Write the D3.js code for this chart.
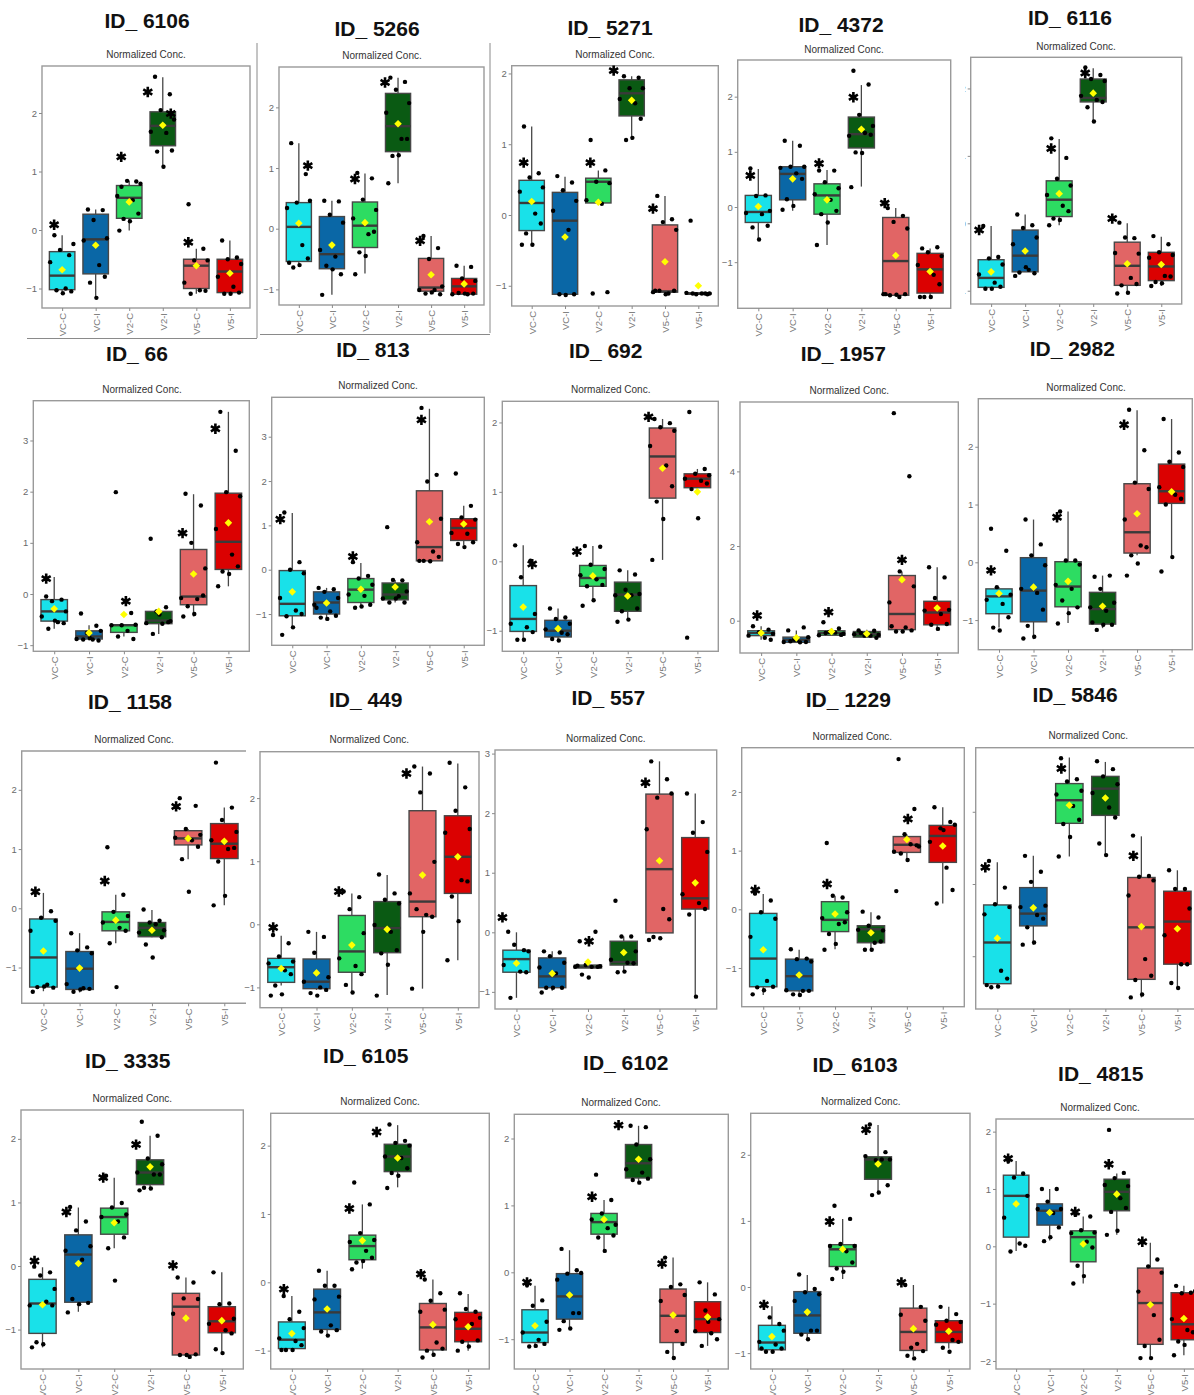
<!DOCTYPE html>
<html>
<head>
<meta charset="utf-8">
<script src="https://cdn.jsdelivr.net/npm/d3@7/dist/d3.min.js"></script>
<style>
  html, body { margin: 0; padding: 0; background: #ffffff; }
  svg { display: block; font-family: "Liberation Sans", Arial, sans-serif; }
</style>
</head>
<body>
<svg id="chart" width="1194" height="1395"></svg>
<script>
// ---------------- data ----------------
const groups = ["VC-C", "VC-I", "V2-C", "V2-I", "V5-C", "V5-I"];

const panelIds = ["ID_ 6106", "ID_ 5266", "ID_ 5271", "ID_ 4372", "ID_ 6116",
                  "ID_ 66", "ID_ 813", "ID_ 692", "ID_ 1957", "ID_ 2982",
                  "ID_ 1158", "ID_ 449", "ID_ 557", "ID_ 1229", "ID_ 5846",
                  "ID_ 3335", "ID_ 6105", "ID_ 6102", "ID_ 6103", "ID_ 4815"];

const yTickValues = [
  [-1, 0, 1, 2], [-1, 0, 1, 2], [-1, 0, 1, 2], [-1, 0, 1, 2], [-1, 0, 1, 2],
  [-1, 0, 1, 2, 3], [-1, 0, 1, 2, 3], [-1, 0, 1, 2], [0, 2, 4], [-1, 0, 1, 2],
  [-1, 0, 1, 2], [-1, 0, 1, 2], [-1, 0, 1, 2, 3], [-1, 0, 1, 2], [-1, 0, 1],
  [-1, 0, 1, 2], [-1, 0, 1, 2], [-1, 0, 1, 2], [-1, 0, 1, 2], [-2, -1, 0, 1, 2]
];

// five-number summaries per group: [lower whisker, Q1, median, Q3, upper whisker]
const boxStats = [
  [[-1.05,-1.02,-0.78,-0.37,-0.09],[-1.14,-0.75,-0.16,0.27,0.35],[-0.01,0.2,0.55,0.76,0.84],[1.08,1.44,1.78,2.02,2.61],[-1.09,-1.0,-0.61,-0.5,-0.32],[-1.09,-1.07,-0.71,-0.5,-0.18]],
  [[-0.63,-0.54,0.03,0.43,1.41],[-1.09,-0.66,-0.42,0.2,0.46],[-0.74,-0.31,0.05,0.44,0.91],[0.75,1.27,1.69,2.23,2.49],[-1.08,-1.03,-0.97,-0.49,-0.12],[-1.08,-1.08,-0.95,-0.82,-0.61]],
  [[-0.42,-0.22,0.17,0.49,1.25],[-1.13,-1.12,-0.08,0.32,0.54],[0.16,0.17,0.47,0.52,0.63],[1.06,1.4,1.72,1.91,1.96],[-1.12,-1.09,-1.08,-0.14,0.27],[-1.12,-1.12,-1.11,-1.1,-1.1]],
  [[-0.59,-0.28,-0.09,0.21,0.69],[-0.07,0.13,0.6,0.73,1.2],[-0.69,-0.13,0.21,0.42,0.67],[0.37,1.07,1.32,1.63,2.21],[-1.6,-1.6,-0.98,-0.19,-0.02],[-1.63,-1.56,-1.13,-0.84,-0.75]],
  [[-0.97,-0.95,-0.81,-0.54,-0.04],[-0.72,-0.72,-0.48,-0.1,0.13],[-0.03,0.1,0.35,0.63,1.25],[1.51,1.8,1.86,2.14,2.3],[-1.04,-0.92,-0.63,-0.28,0.0],[-0.93,-0.85,-0.64,-0.43,-0.2]],
  [[-0.68,-0.53,-0.34,-0.11,0.33],[-0.91,-0.88,-0.83,-0.72,-0.61],[-0.83,-0.75,-0.61,-0.6,-0.6],[-0.78,-0.58,-0.52,-0.34,-0.29],[-0.44,-0.21,-0.05,0.87,1.95],[0.15,0.48,1.02,1.97,3.56]],
  [[-1.3,-1.04,-0.77,-0.02,1.28],[-1.09,-1.0,-0.74,-0.5,-0.41],[-0.86,-0.74,-0.45,-0.2,0.15],[-0.74,-0.68,-0.56,-0.3,-0.23],[0.2,0.2,0.51,1.78,3.63],[0.56,0.66,0.94,1.15,1.44]],
  [[-1.13,-1.01,-0.83,-0.35,0.23],[-1.14,-1.09,-1.0,-0.85,-0.68],[-0.58,-0.36,-0.24,-0.06,0.22],[-0.86,-0.72,-0.48,-0.3,-0.13],[0.02,0.91,1.51,1.92,2.05],[1.04,1.06,1.19,1.26,1.33]],
  [[-0.51,-0.4,-0.33,-0.27,-0.15],[-0.6,-0.58,-0.51,-0.44,-0.26],[-0.39,-0.39,-0.33,-0.27,-0.2],[-0.46,-0.44,-0.36,-0.29,-0.24],[-0.29,-0.24,0.18,1.21,1.32],[-0.22,-0.11,0.22,0.52,1.43]],
  [[-1.13,-0.89,-0.59,-0.46,-0.43],[-1.33,-1.03,-0.49,0.08,0.74],[-1.05,-0.77,-0.42,0.01,0.88],[-1.14,-1.07,-0.81,-0.52,-0.23],[0.12,0.16,0.52,1.36,2.63],[0.09,1.02,1.23,1.7,2.48]],
  [[-1.4,-1.33,-0.83,-0.18,0.26],[-1.42,-1.37,-1.02,-0.73,-0.42],[-0.59,-0.38,-0.23,-0.06,0.23],[-0.49,-0.48,-0.33,-0.24,-0.03],[0.83,1.07,1.18,1.31,1.34],[0.05,0.84,1.09,1.43,1.7]],
  [[-0.97,-0.92,-0.68,-0.54,-0.18],[-1.04,-1.02,-0.91,-0.55,-0.12],[-1.07,-0.76,-0.43,0.14,0.49],[-1.12,-0.45,-0.06,0.36,0.78],[-1.02,0.12,0.36,1.8,2.5],[-0.57,0.49,1.07,1.72,2.55]],
  [[-1.1,-0.67,-0.45,-0.3,0.0],[-0.98,-0.93,-0.74,-0.43,-0.32],[-0.6,-0.6,-0.58,-0.55,-0.55],[-0.66,-0.55,-0.5,-0.15,-0.07],[-0.01,-0.01,1.06,2.32,2.87],[-1.08,0.39,0.57,1.59,2.33]],
  [[-1.46,-1.32,-0.84,-0.07,0.26],[-1.46,-1.39,-1.14,-0.85,-0.69],[-0.68,-0.38,-0.18,0.13,0.23],[-0.69,-0.57,-0.34,-0.28,-0.05],[0.84,0.97,1.1,1.24,1.28],[0.1,0.8,1.25,1.43,1.74]],
  [[-1.42,-1.38,-0.81,-0.29,0.3],[-0.84,-0.58,-0.41,-0.05,0.39],[0.38,0.84,1.16,1.39,1.75],[0.4,0.95,1.32,1.49,1.69],[-1.57,-1.32,-0.6,0.09,0.66],[-1.44,-1.11,-0.52,-0.1,0.19]],
  [[-1.28,-1.06,-0.59,-0.21,-0.02],[-0.72,-0.57,0.18,0.49,0.92],[0.28,0.5,0.77,0.91,1.39],[1.19,1.28,1.47,1.67,2.05],[-1.43,-1.4,-0.64,-0.43,-0.18],[-1.37,-1.05,-0.87,-0.64,-0.1]],
  [[-0.99,-0.97,-0.84,-0.58,-0.2],[-0.77,-0.69,-0.44,-0.1,0.17],[0.2,0.33,0.53,0.69,1.14],[1.39,1.62,1.84,2.02,2.3],[-1.09,-0.99,-0.66,-0.31,0.04],[-1.0,-0.87,-0.68,-0.44,-0.17]],
  [[-1.11,-1.05,-0.9,-0.56,-0.2],[-0.84,-0.7,-0.36,-0.02,0.33],[0.33,0.57,0.75,0.88,1.08],[1.35,1.41,1.63,1.91,2.19],[-1.28,-1.05,-0.65,-0.25,0.22],[-1.1,-0.9,-0.7,-0.44,-0.15]],
  [[-0.99,-0.95,-0.84,-0.58,-0.29],[-0.79,-0.7,-0.43,-0.07,0.18],[0.12,0.31,0.57,0.64,1.03],[1.4,1.63,1.93,1.97,2.45],[-1.05,-0.96,-0.68,-0.32,0.03],[-0.93,-0.84,-0.68,-0.51,-0.3]],
  [[-0.08,0.16,0.88,1.24,1.49],[0.1,0.37,0.62,0.74,1.0],[-0.65,-0.27,0.16,0.27,0.52],[0.2,0.62,0.95,1.17,1.27],[-1.95,-1.71,-0.99,-0.38,0.06],[-1.9,-1.63,-1.36,-0.81,-0.69]]
];

// group means (yellow diamonds)
const groupMeans = [
  [-0.68,-0.26,0.48,1.79,-0.61,-0.74],
  [0.09,-0.27,0.1,1.73,-0.76,-0.91],
  [0.19,-0.31,0.18,1.62,-0.66,-1.0],
  [0.01,0.51,0.13,1.41,-0.88,-1.17],
  [-0.72,-0.41,0.44,1.93,-0.6,-0.61],
  [-0.29,-0.76,-0.4,-0.34,0.39,1.39],
  [-0.5,-0.75,-0.44,-0.39,1.08,1.03],
  [-0.66,-0.97,-0.21,-0.5,1.34,1.0],
  [-0.33,-0.46,-0.29,-0.35,1.1,0.34],
  [-0.54,-0.43,-0.33,-0.76,0.84,1.22],
  [-0.72,-1.01,-0.2,-0.37,1.18,1.13],
  [-0.7,-0.77,-0.33,-0.08,0.78,1.07],
  [-0.52,-0.69,-0.5,-0.34,1.2,0.83],
  [-0.69,-1.12,-0.08,-0.4,1.19,1.08],
  [-0.75,-0.33,1.09,1.19,-0.59,-0.62],
  [-0.61,0.04,0.68,1.56,-0.82,-0.86],
  [-0.75,-0.39,0.61,1.82,-0.62,-0.65],
  [-0.8,-0.34,0.79,1.69,-0.64,-0.67],
  [-0.75,-0.38,0.57,1.86,-0.63,-0.67],
  [0.74,0.59,0.04,0.91,-1.02,-1.26]
];

// individual normalized concentrations per group
const samplePoints = [
  [[-0.09,-0.43,-0.34,-0.24,-0.55,-1.0,-1.05,-1.03,-1.08],[0.35,0.34,0.17,-0.14,-0.18,-0.6,-0.8,-0.9,-1.16],[0.74,0.83,0.84,0.79,0.58,0.51,0.28,0.19,0.15,-0.01],[2.62,2.32,2.05,1.89,1.68,1.66,1.36,1.34,1.08],[0.44,-0.32,-0.52,-0.52,-0.9,-1.03,-1.04,-1.09],[-0.18,-0.47,-0.5,-0.58,-0.8,-0.97,-1.07,-1.09,-1.09]],
  [[1.41,0.9,0.43,0.46,0.34,-0.27,-0.49,-0.64,-0.6,-0.56],[0.46,0.45,0.23,0.1,-0.35,-0.46,-0.75,-0.61,-0.67,-1.09],[0.92,0.83,0.48,0.31,0.17,-0.09,-0.05,-0.39,-0.45,-0.75],[2.49,2.42,2.29,2.07,1.91,1.48,1.48,1.2,1.21,0.75],[-0.12,-0.32,-0.5,-0.95,-1.01,-1.01,-1.08,-1.07,-1.05],[-0.61,-0.63,-0.82,-0.86,-1.08,-1.08,-1.07,-1.06,-1.07]],
  [[1.25,0.59,0.53,0.39,0.33,0.02,-0.12,-0.26,-0.42,-0.42],[0.55,0.46,0.35,0.2,0.06,-0.21,-1.12,-1.12,-1.13],[1.06,0.63,0.47,0.45,0.21,0.16,-1.09,-1.11],[1.96,1.94,1.79,1.79,1.64,1.58,1.36,1.06,1.09],[0.27,-0.06,-0.1,-0.21,-1.09,-1.11,-1.07,-1.07,-1.12,-1.07],[-0.08,-1.11,-1.12,-1.11,-1.1,-1.11,-1.12,-1.11]],
  [[0.7,0.21,0.2,-0.07,-0.11,-0.13,-0.34,-0.37,-0.59],[1.2,1.11,0.73,0.73,0.71,0.61,0.51,0.14,0.02,-0.05],[0.66,0.66,0.45,0.34,0.23,0.13,-0.07,-0.13,-0.28,-0.69],[2.47,2.22,1.67,1.47,1.29,1.34,1.31,0.99,0.98,0.36],[-0.02,-0.16,-0.27,-0.39,-1.58,-1.63,-1.58,-1.6,-1.59,-1.58],[-0.75,-0.73,-0.82,-0.89,-1.05,-1.23,-1.4,-1.63,-1.63,-1.63]],
  [[-0.04,-0.5,-0.52,-0.61,-0.76,-0.88,-0.94,-0.97,-0.97],[0.13,-0.03,-0.07,-0.21,-0.31,-0.69,-0.74,-0.73,-0.65,-0.78],[1.26,0.97,0.66,0.56,0.42,0.26,0.18,0.07,0.05,-0.03],[2.31,2.2,2.14,2.11,1.89,1.83,1.8,1.72,1.51],[0.01,-0.22,-0.21,-0.45,-0.44,-0.81,-0.9,-0.92,-1.03,-1.04],[-0.19,-0.31,-0.43,-0.47,-0.51,-0.78,-0.79,-0.87,-0.89,-0.93]],
  [[-0.05,-0.11,-0.14,-0.34,-0.44,-0.55,-0.57,-0.68,-0.52],[-0.38,-0.62,-0.76,-0.72,-0.88,-0.89,-0.91,-0.89,-0.86],[1.99,-0.37,-0.61,-0.6,-0.61,-0.72,-0.88,-0.83],[1.08,-0.26,-0.34,-0.53,-0.57,-0.58,-0.55,-0.78,-0.4],[1.96,1.73,1.0,0.5,-0.08,-0.1,-0.03,-0.24,-0.39,-0.44],[3.56,2.8,1.99,1.91,1.27,0.77,0.54,0.44,0.39,0.15]],
  [[1.29,0.17,0.0,-0.08,-0.64,-0.92,-1.0,-1.05,-1.3,-1.47],[-0.41,-0.44,-0.5,-0.64,-0.79,-0.94,-1.04,-1.08,-1.11,-0.86],[0.17,-0.14,-0.2,-0.34,-0.56,-0.59,-0.79,-0.86,-0.83],[0.96,-0.24,-0.23,-0.49,-0.65,-0.6,-0.74,-0.74,-0.65],[3.65,2.14,1.99,1.15,0.62,0.41,0.29,0.2,0.19,0.2],[2.17,1.44,1.18,1.13,0.83,0.81,0.62,0.58,0.51]],
  [[0.23,0.01,-0.23,-0.76,-0.9,-0.95,-1.02,-1.13,-1.13],[-0.68,-0.81,-0.83,-0.9,-0.98,-1.03,-1.05,-1.12,-1.14],[0.22,0.21,-0.05,-0.11,-0.2,-0.26,-0.34,-0.36,-0.56,-0.64],[-0.13,-0.19,-0.41,-0.47,-0.49,-0.49,-0.68,-0.72,-0.84,-0.87],[2.05,1.99,1.93,1.88,1.66,1.38,1.08,0.86,0.61,0.02],[2.15,1.33,1.26,1.24,1.19,1.16,1.12,1.04,0.62,-1.1]],
  [[-0.15,-0.24,-0.31,-0.35,-0.4,-0.46,-0.51],[-0.26,-0.18,-0.51,-0.44,-0.57,-0.58,-0.57,-0.55,-0.51],[-0.04,-0.21,-0.3,-0.35,-0.39,-0.32,-0.38,-0.33],[-0.26,-0.27,-0.4,-0.38,-0.36,-0.4,-0.46,-0.33],[5.56,3.87,1.32,0.92,0.49,-0.18,-0.26,-0.29,-0.29,-0.15],[1.43,1.16,0.61,0.29,0.27,0.18,-0.09,-0.11,-0.22]],
  [[0.58,0.2,-0.43,-0.56,-0.65,-0.72,-0.95,-1.13,-1.18],[0.74,0.31,0.12,-0.05,-0.46,-0.53,-0.82,-1.1,-1.29,-1.32],[0.88,0.03,0.03,-0.04,-0.39,-0.46,-0.78,-0.66,-0.88,-1.06],[-0.25,-0.23,-0.46,-0.7,-0.78,-0.84,-1.08,-1.17,-1.08,-1.04],[2.64,1.94,1.38,1.27,0.74,0.29,0.26,0.12,-0.02,-0.23],[2.48,1.9,1.74,1.65,1.3,1.17,1.1,1.0,0.09,-0.16]],
  [[0.27,-0.05,-0.16,-0.21,-0.38,-1.29,-1.34,-1.33,-1.32,-1.41],[-0.42,-0.66,-0.71,-0.76,-1.28,-1.35,-1.36,-1.41,-1.37],[1.03,0.23,-0.06,-0.13,-0.24,-0.33,-0.38,-0.59,-1.33],[-0.02,-0.21,-0.24,-0.37,-0.41,-0.27,-0.49,-0.61,-0.83],[1.86,1.73,1.34,1.24,1.19,1.15,1.04,0.83,0.28],[2.46,1.7,1.49,1.29,1.15,1.0,1.02,0.79,0.21,0.05]],
  [[-0.17,-0.3,-0.51,-0.59,-0.62,-0.73,-0.79,-0.97,-1.11,-1.13],[-0.12,-0.2,-0.45,-0.84,-0.91,-1.0,-1.04,-1.09,-1.13],[0.52,0.43,0.24,-0.14,-0.54,-0.66,-0.79,-0.96,-1.08],[0.79,0.49,0.39,0.33,-0.01,-0.12,-0.41,-0.46,-0.64,-1.13],[2.5,2.39,2.09,0.99,0.49,0.15,0.12,0.24,-0.12,-1.02],[2.56,2.17,1.8,1.51,1.45,0.7,0.68,0.44,0.05,-0.57]],
  [[0.01,-0.3,-0.21,-0.32,-0.55,-0.66,-0.67,-1.1],[-0.32,-0.34,-0.4,-0.51,-0.59,-0.69,-0.93,-0.93,-0.93,-1.01],[-0.15,0.01,-0.55,-0.57,-0.58,-0.58,-0.58,-0.71,-0.76,-0.56],[0.53,-0.07,-0.07,-0.32,-0.46,-0.51,-0.52,-0.67,-0.66],[2.87,2.57,2.26,2.33,1.73,0.39,0.22,-0.08,-0.1,-0.13],[2.33,1.85,1.67,1.35,0.64,0.49,0.39,0.3,-1.08]],
  [[0.27,0.15,-0.05,-0.16,-0.47,-1.22,-1.32,-1.33,-1.38,-1.45],[-0.68,-0.84,-0.85,-0.89,-1.38,-1.39,-1.39,-1.45,-1.46],[1.13,0.2,0.23,-0.05,-0.15,-0.25,-0.22,-0.42,-0.59,-0.69],[-0.04,-0.14,-0.28,-0.36,-0.35,-0.57,-0.55,-0.69,-0.69],[2.56,1.71,1.28,1.07,0.98,1.11,1.09,0.95,0.84,0.31],[1.74,1.49,1.38,1.44,1.15,0.71,0.33,0.1,1.35]],
  [[0.32,-0.05,-0.28,-0.32,-0.42,-1.2,-1.31,-1.43,-1.42,-1.4],[0.39,0.17,0.03,-0.3,-0.32,-0.43,-0.48,-0.6,-0.81,-0.84],[1.74,1.45,1.42,1.29,1.24,1.08,0.89,0.83,0.65,0.38],[1.7,1.59,1.49,1.38,1.26,1.06,0.92,0.56,0.4],[0.67,0.11,0.1,0.05,-0.16,-1.04,-1.27,-1.33,-1.53,-1.57],[0.19,-0.07,-0.07,-0.34,-0.71,-1.11,-1.11,-1.37,-1.44]],
  [[-0.01,-0.1,-0.15,-0.36,-0.62,-0.56,-0.62,-1.2,-1.23,-1.28],[0.93,0.7,0.56,0.31,0.24,0.1,-0.58,-0.52,-0.6,-0.73],[1.42,0.99,0.92,0.81,0.77,0.7,0.45,0.28,-0.23],[2.27,2.05,1.69,1.6,1.47,1.44,1.44,1.23,1.22,1.19],[-0.18,-0.26,-0.51,-0.52,-0.75,-1.43,-1.39,-1.4,-1.4],[-0.1,-0.59,-0.6,-0.83,-0.91,-1.01,-1.06,-1.31,-1.37]],
  [[-0.2,-0.43,-0.54,-0.67,-0.82,-0.86,-0.92,-0.99,-0.99,-0.99],[0.17,-0.05,-0.05,-0.21,-0.25,-0.63,-0.7,-0.72,-0.78],[1.46,1.14,0.72,0.62,0.59,0.46,0.36,0.29,0.31,0.19],[2.31,2.07,2.04,2.0,1.84,1.82,1.67,1.6,1.56,1.38],[0.04,-0.16,-0.27,-0.4,-0.43,-0.88,-0.97,-1.0,-1.06,-1.1],[-0.16,-0.43,-0.39,-0.52,-0.54,-0.61,-0.85,-0.87,-0.94,-1.0]],
  [[-0.19,-0.42,-0.5,-0.74,-0.9,-1.01,-1.07,-1.11,-1.1],[0.35,0.03,-0.02,-0.01,-0.11,-0.61,-0.61,-0.73,-0.84,-0.86],[1.46,1.08,0.88,0.71,0.79,0.66,0.55,0.52,0.32],[2.19,2.17,1.91,1.69,1.54,1.49,1.4,1.38,1.34],[0.22,-0.18,-0.22,-0.34,-0.43,-0.88,-1.07,-1.19,-1.28],[-0.15,-0.33,-0.57,-0.7,-0.88,-0.91,-1.0,-1.1,-0.74]],
  [[-0.28,-0.56,-0.46,-0.66,-0.83,-0.87,-0.93,-0.98,-0.98,-0.93],[0.19,-0.03,-0.08,-0.11,-0.21,-0.66,-0.66,-0.72,-0.79],[1.23,1.03,0.65,0.62,0.62,0.54,0.37,0.28,0.23,0.12],[2.46,2.04,1.92,1.93,1.98,1.93,1.54,1.39,1.43],[0.03,-0.3,-0.92,-0.51,-0.42,-0.86,-0.97,-1.04,-1.08],[-0.3,-0.41,-0.51,-0.53,-0.57,-0.8,-0.83,-0.92,-0.98]],
  [[1.49,1.27,1.2,0.88,0.5,0.05,0.01,-0.09],[1.0,1.0,0.78,0.65,0.65,0.58,0.33,0.09,0.16],[0.55,0.52,0.28,0.24,0.23,0.08,-0.02,-0.34,-0.52,-0.65],[2.03,1.28,1.19,1.05,1.07,0.84,0.67,0.6,0.27,0.2],[0.08,-0.23,-0.35,-0.46,-0.79,-1.2,-1.63,-1.74,-1.95,-1.95],[-0.69,-0.81,-0.82,-0.78,-1.27,-1.46,-1.5,-1.66,-1.72,-1.9]]
];

// significance marks: [group index, level of the mark]
const sigMarks = [
  [[0,0.09],[2,1.25],[3,2.36],[3,1.99],[4,-0.21]],
  [[0,1.04],[2,0.82],[3,2.41],[4,-0.2]],
  [[0,0.74],[2,0.74],[3,2.04],[4,0.09]],
  [[0,0.57],[2,0.79],[3,1.99],[4,0.07]],
  [[0,-0.1],[2,1.11],[3,2.23],[4,0.07]],
  [[0,0.3],[2,-0.14],[4,1.19],[5,3.23]],
  [[0,1.14],[2,0.3],[4,3.38]],
  [[0,-0.04],[2,0.14],[4,2.08]],
  [[0,0.14],[2,0.23],[4,1.63]],
  [[0,-0.14],[2,0.78],[4,2.38]],
  [[0,0.28],[2,0.46],[4,1.72]],
  [[0,-0.05],[2,0.52],[4,2.39]],
  [[0,0.25],[2,-0.15],[4,2.51]],
  [[0,0.33],[2,0.43],[4,1.54]],
  [[0,0.23],[2,1.6],[4,0.39]],
  [[0,0.08],[1,0.85],[2,1.39],[3,1.91],[4,0.01]],
  [[0,-0.1],[2,1.08],[3,2.2],[4,0.12]],
  [[0,-0.15],[2,1.13],[3,2.2],[4,0.13]],
  [[0,-0.27],[2,0.99],[3,2.38],[4,0.07]],
  [[0,1.53],[2,0.6],[3,1.43],[4,0.08]]
];

// ---------------- layout & style ----------------
const groupFill = ["#19E1E9", "#0A67A6", "#2DDC62", "#0A5A13", "#E16565", "#DB0101"];

// plot frame [x0, y0, x1, y1], pixel row of value 0, pixels per unit, title & subtitle anchors
const panelLayout = [
  {f:[42,66,250,308],       zero:230,    unit:58.5,  t:[147,28],      s:[146,57.5]},
  {f:[279,67,484,305],      zero:228.7,  unit:60.67, t:[377,36],      s:[382,58.5]},
  {f:[511.7,65.7,718.3,306],zero:215,    unit:70.77, t:[610,35],      s:[615,57.5]},
  {f:[737.7,60,950.7,308.3],zero:207,    unit:55.17, t:[841,32],      s:[844,52.5]},
  {f:[970.7,57.3,1181.7,304],zero:223.3, unit:67.43, t:[1070,25],     s:[1076,49.5], labelClip:965},
  {f:[33.3,400.7,249.3,651.3],zero:594,  unit:51.17, t:[137,361],     s:[142,392.5]},
  {f:[271.7,397.3,484.3,645.3],zero:569.7,unit:44.33,t:[373,357],     s:[378,389]},
  {f:[502.3,401.3,718.3,651.3],zero:561.3,unit:69.43,t:[605.7,358],   s:[610.7,393]},
  {f:[740,402,958.3,653],   zero:620.7,  unit:37.33, t:[843.3,361],   s:[849.3,394]},
  {f:[978.3,398.7,1192.3,649.7],zero:562.3,unit:57.77,t:[1072.3,356], s:[1086,391]},
  {f:[21.7,751,246,1003.3], zero:908.3,  unit:59.23, t:[130,709],     s:[134,743], openRight:true},
  {f:[260,751.7,479,1007.7],zero:924.3,  unit:63.1,  t:[365.7,707],   s:[369.3,743]},
  {f:[495,750,716.7,1009],  zero:932.3,  unit:59.57, t:[608.3,705],   s:[605.7,742]},
  {f:[741.7,747.7,964.3,1006.7],zero:909.3,unit:58.67,t:[848.3,707],  s:[852.3,739.5]},
  {f:[975.7,747.7,1199,1009],zero:884,   unit:72.23, t:[1075,702],    s:[1088.3,739], noTickLabels:true},
  {f:[21,1110,243.3,1369],  zero:1266,   unit:63.57, t:[127.7,1068],  s:[132.3,1102]},
  {f:[270.7,1113.3,489.3,1369],zero:1282.3,unit:68.33,t:[365.7,1063], s:[380,1105]},
  {f:[514.3,1114.3,728.3,1369],zero:1272.3,unit:66.9,t:[625.7,1070],  s:[621,1106]},
  {f:[750.7,1113.3,970,1369],zero:1287,  unit:66.1,  t:[855,1072],    s:[860.7,1105]},
  {f:[996,1119,1204,1369],  zero:1246.3, unit:57.33, t:[1100.7,1081], s:[1100,1111]}
];

// horizontal nudge (px) of individual significance marks, keyed "panel-mark"
const markNudge = {
  "0-2":-15, "0-3":8, "1-0":9, "1-1":-10, "1-2":-13, "1-3":-11,
  "2-2":-18, "2-3":-12, "3-3":-11, "4-0":-12, "4-3":-15,
  "5-1":2, "5-2":-11, "5-3":-13, "6-0":-12, "7-0":9, "7-1":-16, "7-2":-14,
  "8-0":-4, "8-1":-3, "8-2":0, "9-2":-13, "9-1":-11, "10-1":-11, "10-2":-12,
  "11-1":-13, "11-2":-16, "12-0":-14, "12-1":1, "12-2":-14, "13-2":1,
  "14-0":-12, "15-1":-12, "15-2":-11, "15-3":-14, "15-4":-13,
  "16-1":-13, "16-2":-21, "16-3":-12, "17-1":-12, "17-2":-20, "17-3":-11,
  "18-1":-13, "18-2":-12, "18-3":-12
};

// thin separator rules between the assembled panels
const separators = [[257,43,257,338],[27,338.5,257,338.5],[260,334.5,490,334.5],[490,43,490,333]];

// horizontal spread of the jittered points, as fractions of half a step
const jitterPattern = [-0.55, 0.5, -0.15, 0.8, -0.85, 0.25, 0.65, -0.4, 0.05, -0.7];

// ---------------- drawing ----------------
const svg = d3.select("#chart");
svg.append("rect").attr("width", 1194).attr("height", 1395).attr("fill", "#fff");

const defs = svg.append("defs");

separators.forEach(s => {
  svg.append("line").attr("x1", s[0]).attr("y1", s[1]).attr("x2", s[2]).attr("y2", s[3])
    .attr("stroke", "#8a8a8a").attr("stroke-width", 1);
});

function starPath(r) {
  const p = [];
  [90, 30, 150].forEach(a => {
    const rad = a * Math.PI / 180;
    const dx = r * Math.cos(rad), dy = r * Math.sin(rad);
    p.push(`M${-dx},${-dy}L${dx},${dy}`);
  });
  return p.join("");
}

panelIds.forEach((id, p) => {
  const L = panelLayout[p];
  const [x0, y0, x1, y1] = L.f;
  const g = svg.append("g");

  const x = d3.scalePoint().domain(groups).range([x0, x1]).padding(0.6);
  const y = d3.scaleLinear().domain([0, 1]).range([L.zero, L.zero - L.unit]);
  const step = x.step();
  const bw = step * 0.76;

  // title and subtitle
  g.append("text").attr("x", L.t[0]).attr("y", L.t[1]).attr("text-anchor", "middle")
    .attr("font-size", 21).attr("font-weight", "bold").attr("fill", "#111").text(id);
  g.append("text").attr("x", L.s[0]).attr("y", L.s[1]).attr("text-anchor", "middle")
    .attr("font-size", 10).attr("fill", "#333").text("Normalized Conc.");

  // panel frame
  if (L.openRight) {
    g.append("path").attr("d", `M${x1},${y0}H${x0}V${y1}H${x1}`)
      .attr("fill", "none").attr("stroke", "#9a9a9a").attr("stroke-width", 1.4);
  } else {
    g.append("rect").attr("x", x0).attr("y", y0).attr("width", x1 - x0).attr("height", y1 - y0)
      .attr("fill", "none").attr("stroke", "#9a9a9a").attr("stroke-width", 1.4);
  }

  // y axis
  const yAxisG = g.append("g").attr("transform", `translate(${x0},0)`)
    .call(d3.axisLeft(y).tickValues(yTickValues[p]).tickSize(3).tickPadding(2).tickFormat(d3.format("d")));
  yAxisG.select(".domain").remove();
  yAxisG.selectAll(".tick line").attr("stroke", "#8a8a8a");
  yAxisG.selectAll(".tick text").attr("fill", "#6a6a6a").attr("font-size", 9.5)
    .attr("font-family", "Liberation Sans, Arial, sans-serif");
  if (L.noTickLabels) yAxisG.selectAll(".tick text").remove();
  if (L.labelClip !== undefined) {
    const cid = `lclip${p}`;
    defs.append("clipPath").attr("id", cid).append("rect")
      .attr("x", L.labelClip - x0).attr("y", -2000).attr("width", 4000).attr("height", 6000);
    yAxisG.attr("clip-path", `url(#${cid})`);
  }

  // x axis with rotated labels
  const xAxisG = g.append("g").attr("transform", `translate(0,${y1})`)
    .call(d3.axisBottom(x).tickSize(3).tickPadding(2));
  xAxisG.select(".domain").remove();
  xAxisG.selectAll(".tick line").attr("stroke", "#8a8a8a");
  xAxisG.selectAll(".tick text")
    .attr("transform", "rotate(-90)")
    .attr("x", -5).attr("y", 0).attr("dy", "0.35em")
    .attr("text-anchor", "end")
    .attr("fill", "#7a7a7a").attr("font-size", 9.5)
    .attr("font-family", "Liberation Sans, Arial, sans-serif");

  // boxes
  groups.forEach((grp, i) => {
    const [lo, q1, med, q3, hi] = boxStats[p][i];
    const cx = x(grp);
    const bg = g.append("g");
    bg.append("line").attr("x1", cx).attr("x2", cx).attr("y1", y(hi)).attr("y2", y(q3))
      .attr("stroke", "#474747").attr("stroke-width", 1.3);
    bg.append("line").attr("x1", cx).attr("x2", cx).attr("y1", y(q1)).attr("y2", y(lo))
      .attr("stroke", "#474747").attr("stroke-width", 1.3);
    bg.append("rect").attr("x", cx - bw / 2).attr("width", bw)
      .attr("y", y(q3)).attr("height", Math.max(0.5, y(q1) - y(q3)))
      .attr("fill", groupFill[i]).attr("stroke", "#474747").attr("stroke-width", 1.4);
    bg.append("line").attr("x1", cx - bw / 2).attr("x2", cx + bw / 2).attr("y1", y(med)).attr("y2", y(med))
      .attr("stroke", "#3a3a3a").attr("stroke-width", 2.4);
  });

  // jittered samples
  groups.forEach((grp, i) => {
    const cx = x(grp);
    g.append("g").selectAll("circle").data(samplePoints[p][i]).join("circle")
      .attr("cx", (d, k) => cx + jitterPattern[k % jitterPattern.length] * step * 0.42)
      .attr("cy", d => y(d))
      .attr("r", 2.2).attr("fill", "#000");
  });

  // means
  groups.forEach((grp, i) => {
    const cx = x(grp), cy = y(groupMeans[p][i]);
    g.append("path").attr("d", `M${cx},${cy - 3.8}L${cx + 3.8},${cy}L${cx},${cy + 3.8}L${cx - 3.8},${cy}Z`)
      .attr("fill", "#FFFF00");
  });

  // significance marks
  sigMarks[p].forEach((m, k) => {
    const key = `${p}-${k}`;
    const dx = markNudge[key] !== undefined ? markNudge[key] : -8;
    g.append("path")
      .attr("transform", `translate(${x(groups[m[0]]) + dx},${y(m[1])})`)
      .attr("d", starPath(5.2))
      .attr("stroke", "#000").attr("stroke-width", 2.6).attr("fill", "none");
  });
});
</script>
</body>
</html>
